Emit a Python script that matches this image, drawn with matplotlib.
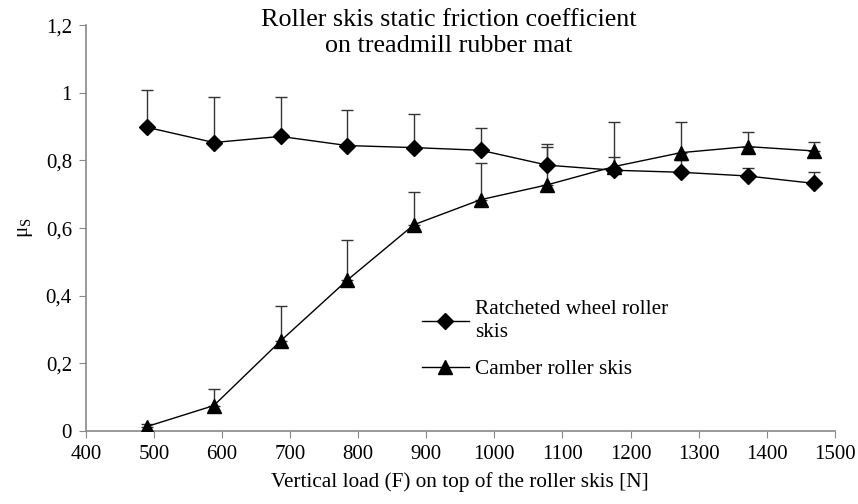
import numpy as np
import matplotlib.pyplot as plt
from matplotlib.lines import Line2D

# --- data ---
load_n = [490, 588, 686, 784, 882, 980, 1078, 1176, 1274, 1372, 1470]

ratchet_mu = [0.898, 0.853, 0.871, 0.844, 0.838, 0.830, 0.786, 0.771, 0.765, 0.754, 0.732]
ratchet_sd = [0.110, 0.134, 0.118, 0.106, 0.100, 0.067, 0.063, 0.039, 0.035, 0.025, 0.035]

camber_mu = [0.013, 0.075, 0.266, 0.446, 0.610, 0.684, 0.728, 0.782, 0.823, 0.841, 0.828]
camber_sd = [0.008, 0.048, 0.103, 0.118, 0.096, 0.108, 0.113, 0.131, 0.092, 0.044, 0.028]

x_ticks = [400, 500, 600, 700, 800, 900, 1000, 1100, 1200, 1300, 1400, 1500]
y_ticks = [0, 0.2, 0.4, 0.6, 0.8, 1.0, 1.2]
y_labels = ['0', '0,2', '0,4', '0,6', '0,8', '1', '1,2']

plt.rcParams['font.family'] = 'Liberation Serif'
plt.rcParams['font.size'] = 15

fig = plt.figure(figsize=(8.58, 5.04), dpi=100)
ax = fig.add_axes([0.100, 0.145, 0.873, 0.805])

zeros = np.zeros(len(load_n))
ax.errorbar(load_n, ratchet_mu, yerr=[zeros, ratchet_sd], color='black', marker='D',
            markersize=8.5, linewidth=1, ecolor='#333333', elinewidth=1, capsize=4,
            capthick=1, zorder=3)
ax.errorbar(load_n, camber_mu, yerr=[zeros, camber_sd], color='black', marker='^',
            markersize=10, linewidth=1, ecolor='#333333', elinewidth=1, capsize=4,
            capthick=1, zorder=3)

ax.set_xlim(400, 1500)
ax.set_ylim(0, 1.2)
ax.set_xticks(x_ticks)
ax.set_yticks(y_ticks)
ax.set_yticklabels(y_labels)
ax.tick_params(direction='out', length=5, color='#888888', labelsize=15, pad=5)

for s in ['top', 'right']:
    ax.spines[s].set_visible(False)
for s in ['left', 'bottom']:
    ax.spines[s].set_color('#888888')
    ax.spines[s].set_linewidth(1.2)

ax.set_xlabel('Vertical load (F) on top of the roller skis [N]', fontsize=15.3, labelpad=6)
ax.set_ylabel(r'$\mathregular{\mu_S}$', fontsize=15, labelpad=8)

fig.text(0.523, 0.9345, 'Roller skis static friction coefficient\non treadmill rubber mat',
         ha='center', va='center', fontsize=18.8, linespacing=1.22)

# legend with plain line+marker handles (no error bars)
handles = [Line2D([], [], color='black', marker='D', markersize=8.5, linewidth=1),
           Line2D([], [], color='black', marker='^', markersize=10, linewidth=1)]
labels = ['Ratcheted wheel roller\nskis', 'Camber roller skis']
leg = ax.legend(handles, labels, loc='upper left', bbox_to_anchor=(0.449, 0.322),
                frameon=False, fontsize=15.3, handlelength=2.2, handletextpad=0.3,
                labelspacing=0.8, borderpad=0, borderaxespad=0)
for t in leg.get_texts():
    t.set_linespacing(1.3)

fig.savefig('out.png', dpi=100)
